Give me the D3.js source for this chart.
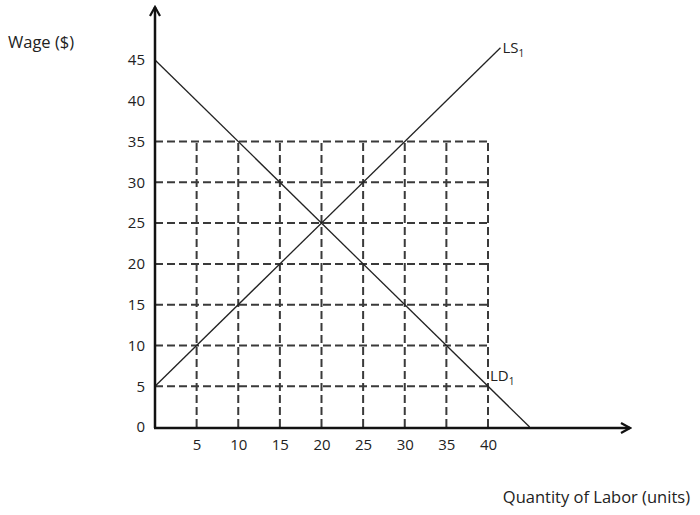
<!DOCTYPE html>
<html>
<head>
<meta charset="utf-8">
<script src="https://cdn.jsdelivr.net/npm/d3@7"></script>
<style>
  body { margin: 0; background: #fff; }
  text { font-family: "Open Sans", sans-serif; fill: #222; }
</style>
</head>
<body>
<script>
// grid values
var xTicks = [5, 10, 15, 20, 25, 30, 35, 40];
var yTicks = [0, 5, 10, 15, 20, 25, 30, 35, 40, 45];
var gridX = [5, 10, 15, 20, 25, 30, 35, 40];
var gridY = [5, 10, 15, 20, 25, 30, 35];
// curves (quantity, wage)
var supplyQ = [0, 41.5];
var supplyW = [5, 46.5];
var demandQ = [0, 45];
var demandW = [45, 0];

var w = 700;
var h = 515;

var x = d3.scaleLinear().domain([0, 40]).range([155, 488]);
var y = d3.scaleLinear().domain([0, 45]).range([427, 60]);

var svg = d3.select("body")
  .append("svg")
  .attr("width", w)
  .attr("height", h);

var defs = svg.append("defs");
defs.append("marker")
  .attr("id", "arrow")
  .attr("viewBox", "0 0 12 12")
  .attr("refX", 10)
  .attr("refY", 6)
  .attr("markerWidth", 12)
  .attr("markerHeight", 12)
  .attr("markerUnits", "userSpaceOnUse")
  .attr("orient", "auto")
  .append("path")
  .attr("d", "M1,1 L10,6 L1,11")
  .attr("fill", "none")
  .attr("stroke", "#111")
  .attr("stroke-width", 2.2);

// dashed grid
svg.selectAll(".hgrid")
  .data(gridY)
  .enter()
  .append("line")
  .attr("x1", x(0))
  .attr("x2", x(40))
  .attr("y1", function(d) { return y(d); })
  .attr("y2", function(d) { return y(d); })
  .attr("stroke", "#3a3a3a")
  .attr("stroke-width", 2)
  .attr("stroke-dasharray", "8,4");

svg.selectAll(".vgrid")
  .data(gridX)
  .enter()
  .append("line")
  .attr("x1", function(d) { return x(d); })
  .attr("x2", function(d) { return x(d); })
  .attr("y1", y(0))
  .attr("y2", y(35))
  .attr("stroke", "#3a3a3a")
  .attr("stroke-width", 2)
  .attr("stroke-dasharray", "8,4");

// curves
var line = d3.line()
  .x(function(d) { return x(d[0]); })
  .y(function(d) { return y(d[1]); });

svg.append("path")
  .attr("d", line(d3.zip(supplyQ, supplyW)))
  .attr("fill", "none")
  .attr("stroke", "#222")
  .attr("stroke-width", 1.3);

svg.append("path")
  .attr("d", line(d3.zip(demandQ, demandW)))
  .attr("fill", "none")
  .attr("stroke", "#222")
  .attr("stroke-width", 1.3);

// axes with arrows
svg.append("line")
  .attr("x1", x(0))
  .attr("y1", y(0) + 1)
  .attr("x2", x(0))
  .attr("y2", 7)
  .attr("stroke", "#111")
  .attr("stroke-width", 2.5)
  .attr("marker-end", "url(#arrow)");

svg.append("line")
  .attr("x1", x(0) - 1)
  .attr("y1", y(0) + 1)
  .attr("x2", 630)
  .attr("y2", y(0) + 1)
  .attr("stroke", "#111")
  .attr("stroke-width", 2.5)
  .attr("marker-end", "url(#arrow)");

// tick labels
var yAxis = d3.axisLeft(y)
  .tickValues(yTicks)
  .tickSize(0)
  .tickPadding(10);
var gy = svg.append("g")
  .attr("transform", "translate(" + x(0) + ",0)")
  .call(yAxis);
gy.select(".domain").remove();
gy.selectAll("text")
  .style("font-family", "'Open Sans', sans-serif")
  .style("font-size", "15px")
  .attr("fill", "#222");

var xAxis = d3.axisBottom(x)
  .tickValues(xTicks)
  .tickSize(0)
  .tickPadding(12);
var gx = svg.append("g")
  .attr("transform", "translate(0," + y(0) + ")")
  .call(xAxis);
gx.select(".domain").remove();
gx.selectAll("text")
  .style("font-family", "'Open Sans', sans-serif")
  .style("font-size", "15px")
  .attr("fill", "#222");

// labels
svg.append("text")
  .attr("x", 8)
  .attr("y", 48)
  .style("font-size", "16.5px")
  .text("Wage ($)");

svg.append("text")
  .attr("x", 690)
  .attr("y", 503)
  .attr("text-anchor", "end")
  .style("font-size", "16.5px")
  .text("Quantity of Labor (units)");

var ls = svg.append("text")
  .attr("x", x(supplyQ[1]) + 2)
  .attr("y", y(supplyW[1]) + 5)
  .style("font-size", "15px");
ls.append("tspan").text("LS");
ls.append("tspan").attr("dy", 4).style("font-size", "10px").text("1");

var ld = svg.append("text")
  .attr("x", x(40) + 2)
  .attr("y", y(5) - 5)
  .style("font-size", "15px");
ld.append("tspan").text("LD");
ld.append("tspan").attr("dy", 4).style("font-size", "10px").text("1");
</script>
</body>
</html>
